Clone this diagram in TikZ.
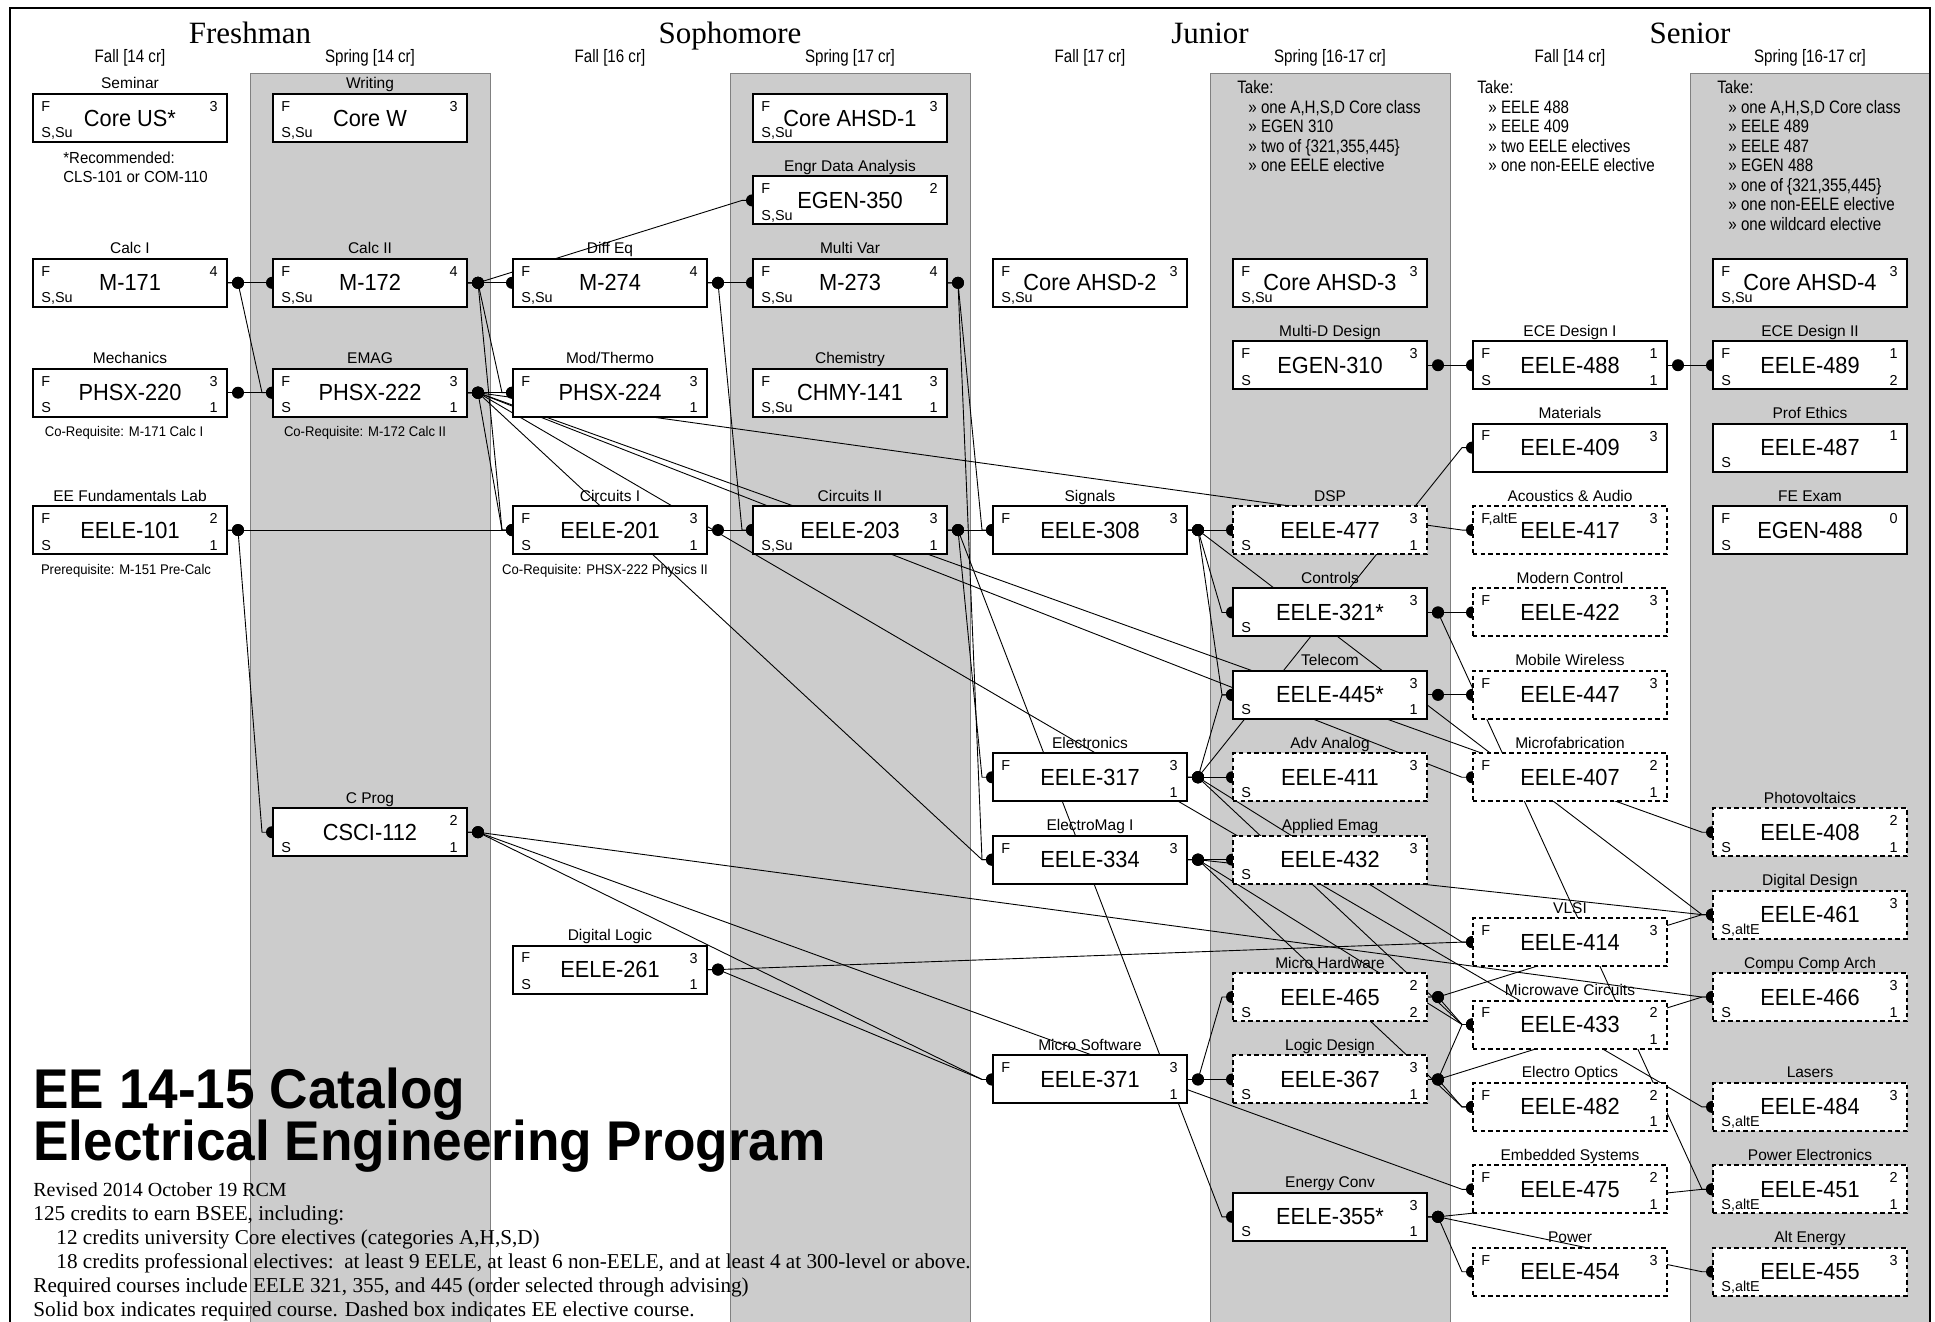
\documentclass[tikz,border=0pt]{standalone}
\usepackage{fontspec}
\setmainfont{Liberation Serif}
\setsansfont{Liberation Sans}
\newfontfamily\narf[FakeStretch=0.84]{Liberation Sans}
\newfontfamily\mnf[FakeStretch=0.935]{Liberation Sans}
\newfontfamily\bigf[FakeStretch=0.95]{Liberation Sans}
\pgfdeclarelayer{shade}
\pgfdeclarelayer{wires}
\pgfsetlayers{shade,wires,main}
\tikzset{
  cbox/.style={draw, line width=1pt, fill=white, minimum width=97pt, minimum height=24pt, inner sep=0pt, font=\mnf\fontsize{11.65}{12}\selectfont},
  dbox/.style={cbox, dash pattern=on 2.2pt off 1.6pt},
  ttl/.style={font=\sffamily\fontsize{7.75}{8}\selectfont, inner sep=0pt, anchor=base},
  crn/.style={font=\sffamily\fontsize{7.2}{8}\selectfont, inner sep=0pt},
  conn/.style={line width=0.45pt},
  yr/.style={font=\rmfamily\fontsize{15.5}{16}\selectfont, inner sep=0pt, anchor=base},
  sem/.style={font=\narf\fontsize{9}{10}\selectfont, inner sep=0pt, anchor=base},
  tk/.style={font=\narf\fontsize{9}{10}\selectfont, inner sep=0pt, anchor=base west},
  nt/.style={font=\mnf\fontsize{7}{8}\selectfont, inner sep=0pt, anchor=base},
  foot/.style={font=\rmfamily\fontsize{10.6}{12}\selectfont, inner sep=0pt, anchor=base west},
  bigt/.style={font=\bigf\bfseries\fontsize{28}{30}\selectfont, inner sep=0pt, anchor=base west},
  colshade/.style={fill=black!20, draw=black!50, line width=0.5pt},
}
\newcommand\crs[6][cbox]{%
  \node[#1] (#2) at ({130+240*#3},{118+27.47*#4}) {#6};
  \node[ttl] (#2t) at ([yshift=2pt]#2.north) {#5};}
\newcommand\cor[5]{%
  \node[crn,anchor=north west] (#1a) at ([xshift=4.5pt,yshift=-4pt]#1.north west) {#2};
  \node[crn,anchor=base west] (#1b) at ([xshift=4.5pt,yshift=2.5pt]#1.south west) {#3};
  \node[crn,anchor=north east] (#1c) at ([xshift=-5pt,yshift=-4pt]#1.north east) {#4};
  \node[crn,anchor=base east] (#1d) at ([xshift=-5pt,yshift=2.5pt]#1.south east) {#5};}
\newcommand\lnk[2]{%
  \draw[conn] (#1.east) -- ([xshift=5pt]#1.east) -- ([xshift=-5pt]#2.west) -- (#2.west);
  \fill ([xshift=5pt]#1.east) circle (3pt);
  \fill (#2.west) circle (3pt);}
\begin{document}
\begin{tikzpicture}[x=0.5pt,y=-0.5pt]
\useasboundingbox (0,0) rectangle (1935,1322);
\clip (0,0) rectangle (1935,1322);
\begin{pgfonlayer}{shade}
  \foreach \c in {250,730,1210,1690} \filldraw[colshade] (\c,74) rectangle (\c+240,1340);
  \draw[line width=1pt] (10,1340) -- (10,8) -- (1930,8) -- (1930,1340);
\end{pgfonlayer}

% headers
\node[yr] (yr1) at (250,44) {Freshman};
\node[yr] (yr2) at (730,44) {Sophomore};
\node[yr] (yr3) at (1210,44) {Junior};
\node[yr] (yr4) at (1690,44) {Senior};
\node[sem] (se1) at (130,63) {Fall [14 cr]};
\node[sem] (se2) at (370,63) {Spring [14 cr]};
\node[sem] (se3) at (610,63) {Fall [16 cr]};
\node[sem] (se4) at (850,63) {Spring [17 cr]};
\node[sem] (se5) at (1090,63) {Fall [17 cr]};
\node[sem] (se6) at (1330,63) {Spring [16-17 cr]};
\node[sem] (se7) at (1570,63) {Fall [14 cr]};
\node[sem] (se8) at (1810,63) {Spring [16-17 cr]};

% take lists
\node[tk] (ta1) at (1237,94) {Take:};
\node[tk] (ta2) at (1248,113.5) {» one A,H,S,D Core class};
\node[tk] (ta3) at (1248,133) {» EGEN 310};
\node[tk] (ta4) at (1248,152.5) {» two of \{321,355,445\}};
\node[tk] (ta5) at (1248,172) {» one EELE elective};
\node[tk] (tb1) at (1477,94) {Take:};
\node[tk] (tb2) at (1488,113.5) {» EELE 488};
\node[tk] (tb3) at (1488,133) {» EELE 409};
\node[tk] (tb4) at (1488,152.5) {» two EELE electives};
\node[tk] (tb5) at (1488,172) {» one non-EELE elective};
\node[tk] (tc1) at (1717,94) {Take:};
\node[tk] (tc2) at (1728,113.5) {» one A,H,S,D Core class};
\node[tk] (tc3) at (1728,133) {» EELE 489};
\node[tk] (tc4) at (1728,152.5) {» EELE 487};
\node[tk] (tc5) at (1728,172) {» EGEN 488};
\node[tk] (tc6) at (1728,191.5) {» one of \{321,355,445\}};
\node[tk] (tc7) at (1728,211) {» one non-EELE elective};
\node[tk] (tc8) at (1728,230.5) {» one wildcard elective};

% column 0
\crs{CoreUS}{0}{0}{Seminar}{Core US*} \cor{CoreUS}{F}{S,Su}{3}{}
\crs{M171}{0}{6}{Calc I}{M-171} \cor{M171}{F}{S,Su}{4}{}
\crs{PHSX220}{0}{10}{Mechanics}{PHSX-220} \cor{PHSX220}{F}{S}{3}{1}
\crs{EELE101}{0}{15}{EE Fundamentals Lab}{EELE-101} \cor{EELE101}{F}{S}{2}{1}
% column 1
\crs{CoreW}{1}{0}{Writing}{Core W} \cor{CoreW}{F}{S,Su}{3}{}
\crs{M172}{1}{6}{Calc II}{M-172} \cor{M172}{F}{S,Su}{4}{}
\crs{PHSX222}{1}{10}{EMAG}{PHSX-222} \cor{PHSX222}{F}{S}{3}{1}
\crs{CSCI112}{1}{26}{C Prog}{CSCI-112} \cor{CSCI112}{}{S}{2}{1}
% column 2
\crs{M274}{2}{6}{Diff Eq}{M-274} \cor{M274}{F}{S,Su}{4}{}
\crs{PHSX224}{2}{10}{Mod/Thermo}{PHSX-224} \cor{PHSX224}{F}{}{3}{1}
\crs{EELE201}{2}{15}{Circuits I}{EELE-201} \cor{EELE201}{F}{S}{3}{1}
\crs{EELE261}{2}{31}{Digital Logic}{EELE-261} \cor{EELE261}{F}{S}{3}{1}
% column 3
\crs{AHSD1}{3}{0}{}{Core AHSD-1} \cor{AHSD1}{F}{S,Su}{3}{}
\crs{EGEN350}{3}{3}{Engr Data Analysis}{EGEN-350} \cor{EGEN350}{F}{S,Su}{2}{}
\crs{M273}{3}{6}{Multi Var}{M-273} \cor{M273}{F}{S,Su}{4}{}
\crs{CHMY141}{3}{10}{Chemistry}{CHMY-141} \cor{CHMY141}{F}{S,Su}{3}{1}
\crs{EELE203}{3}{15}{Circuits II}{EELE-203} \cor{EELE203}{}{S,Su}{3}{1}
% column 4
\crs{AHSD2}{4}{6}{}{Core AHSD-2} \cor{AHSD2}{F}{S,Su}{3}{}
\crs{EELE308}{4}{15}{Signals}{EELE-308} \cor{EELE308}{F}{}{3}{}
\crs{EELE317}{4}{24}{Electronics}{EELE-317} \cor{EELE317}{F}{}{3}{1}
\crs{EELE334}{4}{27}{ElectroMag I}{EELE-334} \cor{EELE334}{F}{}{3}{}
\crs{EELE371}{4}{35}{Micro Software}{EELE-371} \cor{EELE371}{F}{}{3}{1}
% column 5
\crs{AHSD3}{5}{6}{}{Core AHSD-3} \cor{AHSD3}{F}{S,Su}{3}{}
\crs{EGEN310}{5}{9}{Multi-D Design}{EGEN-310} \cor{EGEN310}{F}{S}{3}{}
\crs[dbox]{EELE477}{5}{15}{DSP}{EELE-477} \cor{EELE477}{}{S}{3}{1}
\crs{EELE321}{5}{18}{Controls}{EELE-321*} \cor{EELE321}{}{S}{3}{}
\crs{EELE445}{5}{21}{Telecom}{EELE-445*} \cor{EELE445}{}{S}{3}{1}
\crs[dbox]{EELE411}{5}{24}{Adv Analog}{EELE-411} \cor{EELE411}{}{S}{3}{}
\crs[dbox]{EELE432}{5}{27}{Applied Emag}{EELE-432} \cor{EELE432}{}{S}{3}{}
\crs[dbox]{EELE465}{5}{32}{Micro Hardware}{EELE-465} \cor{EELE465}{}{S}{2}{2}
\crs[dbox]{EELE367}{5}{35}{Logic Design}{EELE-367} \cor{EELE367}{}{S}{3}{1}
\crs{EELE355}{5}{40}{Energy Conv}{EELE-355*} \cor{EELE355}{}{S}{3}{1}
% column 6
\crs{EELE488}{6}{9}{ECE Design I}{EELE-488} \cor{EELE488}{F}{S}{1}{1}
\crs{EELE409}{6}{12}{Materials}{EELE-409} \cor{EELE409}{F}{}{3}{}
\crs[dbox]{EELE417}{6}{15}{Acoustics \& Audio}{EELE-417} \cor{EELE417}{F,altE}{}{3}{}
\crs[dbox]{EELE422}{6}{18}{Modern Control}{EELE-422} \cor{EELE422}{F}{}{3}{}
\crs[dbox]{EELE447}{6}{21}{Mobile Wireless}{EELE-447} \cor{EELE447}{F}{}{3}{}
\crs[dbox]{EELE407}{6}{24}{Microfabrication}{EELE-407} \cor{EELE407}{F}{}{2}{1}
\crs[dbox]{EELE414}{6}{30}{VLSI}{EELE-414} \cor{EELE414}{F}{}{3}{}
\crs[dbox]{EELE433}{6}{33}{Microwave Circuits}{EELE-433} \cor{EELE433}{F}{}{2}{1}
\crs[dbox]{EELE482}{6}{36}{Electro Optics}{EELE-482} \cor{EELE482}{F}{}{2}{1}
\crs[dbox]{EELE475}{6}{39}{Embedded Systems}{EELE-475} \cor{EELE475}{F}{}{2}{1}
\crs[dbox]{EELE454}{6}{42}{Power}{EELE-454} \cor{EELE454}{F}{}{3}{}
% column 7
\crs{AHSD4}{7}{6}{}{Core AHSD-4} \cor{AHSD4}{F}{S,Su}{3}{}
\crs{EELE489}{7}{9}{ECE Design II}{EELE-489} \cor{EELE489}{F}{S}{1}{2}
\crs{EELE487}{7}{12}{Prof Ethics}{EELE-487} \cor{EELE487}{}{S}{1}{}
\crs{EGEN488}{7}{15}{FE Exam}{EGEN-488} \cor{EGEN488}{F}{S}{0}{}
\crs[dbox]{EELE408}{7}{26}{Photovoltaics}{EELE-408} \cor{EELE408}{}{S}{2}{1}
\crs[dbox]{EELE461}{7}{29}{Digital Design}{EELE-461} \cor{EELE461}{}{S,altE}{3}{}
\crs[dbox]{EELE466}{7}{32}{Compu Comp Arch}{EELE-466} \cor{EELE466}{}{S}{3}{1}
\crs[dbox]{EELE484}{7}{36}{Lasers}{EELE-484} \cor{EELE484}{}{S,altE}{3}{}
\crs[dbox]{EELE451}{7}{39}{Power Electronics}{EELE-451} \cor{EELE451}{}{S,altE}{2}{1}
\crs[dbox]{EELE455}{7}{42}{Alt Energy}{EELE-455} \cor{EELE455}{}{S,altE}{3}{}

% notes
\node[nt, font=\mnf\fontsize{8}{9.5}\selectfont, anchor=base west] (n1) at (63,164) {*Recommended:};
\node[nt, font=\mnf\fontsize{8}{9.5}\selectfont, anchor=base west] (n2) at (63,183) {CLS-101 or COM-110};
\node[nt] (n3) at (124,436) {Co-Requisite: M-171 Calc I};
\node[nt] (n4) at (365,436) {Co-Requisite: M-172 Calc II};
\node[nt] (n5) at (126,574) {Prerequisite: M-151 Pre-Calc};
\node[nt] (n6) at (605,574) {Co-Requisite: PHSX-222 Physics II};

% title and footnotes
\node[bigt] (tt1) at (33,1108) {EE 14-15 Catalog};
\node[bigt] (tt2) at (33,1160) {Electrical Engineering Program};
\node[foot, font=\rmfamily\fontsize{10}{12}\selectfont] (f1) at (33,1196) {Revised 2014 October 19 RCM};
\node[foot] (f2) at (33,1220) {125 credits to earn BSEE, including:};
\node[foot] (f3) at (56,1244) {12 credits university Core electives (categories A,H,S,D)};
\node[foot] (f4) at (56,1268) {18 credits professional electives:\ \ at least 9 EELE, at least 6 non-EELE, and at least 4 at 300-level or above.};
\node[foot] (f5) at (33,1292) {Required courses include EELE 321, 355, and 445 (order selected through advising)};
\node[foot] (f6) at (33,1316) {Solid box indicates required course. Dashed box indicates EE elective course.};

% connectors
\begin{pgfonlayer}{wires}
\lnk{M171}{M172} \lnk{M171}{PHSX222} \lnk{PHSX220}{PHSX222}
\lnk{EELE101}{EELE201} \lnk{EELE101}{CSCI112}
\lnk{M172}{M274} \lnk{M172}{EGEN350} \lnk{M172}{PHSX224} \lnk{M172}{EELE201}
\lnk{PHSX222}{PHSX224} \lnk{PHSX222}{EELE201} \lnk{PHSX222}{EELE334}
\lnk{PHSX222}{EELE417} \lnk{PHSX222}{EELE407} \lnk{PHSX222}{EELE408} \lnk{PHSX222}{EELE484}
\lnk{M274}{M273} \lnk{M274}{EELE203}
\lnk{M273}{EELE308} \lnk{M273}{EELE334}
\lnk{EELE201}{EELE203}
\lnk{EELE203}{EELE308} \lnk{EELE203}{EELE317} \lnk{EELE203}{EELE355}
\lnk{EELE308}{EELE477} \lnk{EELE308}{EELE321} \lnk{EELE308}{EELE445} \lnk{EELE308}{EELE461}
\lnk{EELE317}{EELE411} \lnk{EELE317}{EELE409} \lnk{EELE317}{EELE445} \lnk{EELE317}{EELE414} \lnk{EELE317}{EELE433}
\lnk{EELE334}{EELE432} \lnk{EELE334}{EELE433} \lnk{EELE334}{EELE482} \lnk{EELE334}{EELE461}
\lnk{CSCI112}{EELE466} \lnk{CSCI112}{EELE475} \lnk{CSCI112}{EELE371}
\lnk{EELE261}{EELE414} \lnk{EELE261}{EELE371}
\lnk{EELE371}{EELE367} \lnk{EELE371}{EELE465}
\lnk{EGEN310}{EELE488} \lnk{EELE488}{EELE489}
\lnk{EELE321}{EELE422} \lnk{EELE321}{EELE451}
\lnk{EELE445}{EELE447}
\lnk{EELE465}{EELE461} \lnk{EELE465}{EELE433}
\lnk{EELE367}{EELE433} \lnk{EELE367}{EELE482} \lnk{EELE367}{EELE466}
\lnk{EELE355}{EELE454} \lnk{EELE355}{EELE451} \lnk{EELE355}{EELE455}
\end{pgfonlayer}
\end{tikzpicture}
\end{document}
